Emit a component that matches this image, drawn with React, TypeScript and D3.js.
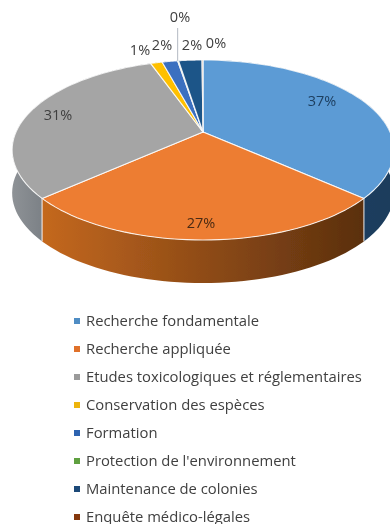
import React from "react";
import * as d3 from "d3";

const categories = [
  "Recherche fondamentale",
  "Recherche appliquée",
  "Etudes toxicologiques et réglementaires",
  "Conservation des espèces",
  "Formation",
  "Protection de l'environnement",
  "Maintenance de colonies",
  "Enquête médico-légales",
];
const shares = [36.6, 26.8, 31.2, 1.2, 1.6, 0.1, 2.4, 0.1];
const shareLabels = ["37%", "27%", "31%", "1%", "2%", "0%", "2%", "0%"];
const topColors = ["#5B9BD5", "#ED7D31", "#A5A5A5", "#FFC000", "#3A6FC0", "#70AD47", "#1F5488", "#9E480E"];
const legendColors = ["#4F8DC4", "#E0712A", "#9A9A9A", "#EDB409", "#2E64B0", "#5FA03F", "#1C4A78", "#85390F"];
const sideFrom = ["#1F4468", "#C4681F", "#8E9296", "#A07800", "#264A80", "#4A7230", "#173A5C", "#6A3008"];
const sideTo = ["#1B3C5C", "#5A2F0E", "#3A444E", "#806000", "#1E3A66", "#3A5A26", "#12304C", "#5A2806"];

const W = 390, H = 524;
const cx = 203, cy = 132, R = 187, S = 86.4, K = 0.2, DEPTH = 43;
const project = (a: number, r = 1): [number, number] => {
  const u = r * Math.sin(a), v = r * Math.cos(a), w = 1 + K * v;
  return [cx + (R * u) / w, cy - (S * v) / w];
};
const labelAt: [number, number][] = [
  [322, 101], [201, 223], [58, 115], [140, 50], [162, 45], [180, 17], [192, 45], [216, 43],
];
const legendX = 86, legendY = 321, legendStep = 28;

export default function App() {
  const arcs = d3.pie<number>().sort(null)(shares);
  const line = d3.line();
  const rim = (s: number, e: number) =>
    d3.range(0, 49).map((i) => project(s + ((e - s) * i) / 48));
  const top = arcs.map((d) => {
    const pts = [[cx, cy] as [number, number], ...rim(d.startAngle, d.endAngle)];
    return line(pts)! + "Z";
  });
  const side = arcs.map((d) => {
    const r = rim(d.startAngle, d.endAngle);
    const low = r.map(([x, y]) => [x, y + DEPTH] as [number, number]).reverse();
    return line([...r, ...low])! + "Z";
  });
  const sideRange = arcs.map((d) => {
    const xs = rim(d.startAngle, d.endAngle).map((p) => p[0]);
    return d3.extent(xs) as [number, number];
  });
  const leader = project(arcs[5].startAngle);
  return (
    <svg width={W} height={H} style={{ position: "absolute", left: 0, top: 0, background: "#fff" }}
      fontFamily="'Open Sans', sans-serif">
      <defs>
        <filter id="soft" x="-5%" y="-5%" width="110%" height="110%">
          <feGaussianBlur stdDeviation="0.4" />
        </filter>
        {arcs.map((_, i) => (
          <linearGradient key={i} id={`side${i}`} gradientUnits="userSpaceOnUse"
            x1={sideRange[i][0]} x2={sideRange[i][1]} y1={0} y2={0}>
            <stop offset="0" stopColor={sideFrom[i]} />
            <stop offset="1" stopColor={sideTo[i]} />
          </linearGradient>
        ))}
      </defs>
      <g filter="url(#soft)">
        {side.map((d, i) => (
          <path key={i} d={d} fill={`url(#side${i})`} />
        ))}
        {arcs.map((d, i) => {
          const a = project(d.startAngle);
          return <line key={i} x1={a[0]} y1={a[1]} x2={a[0]} y2={a[1] + DEPTH} stroke="#fff" strokeOpacity={0.75} strokeWidth={1.2} />;
        })}
        {top.map((d, i) => (
          <path key={i} d={d} fill={topColors[i]} stroke="#fff" strokeOpacity={0.85} strokeWidth={1.1} strokeLinejoin="round" />
        ))}
        <line x1={leader[0]} y1={leader[1]} x2={leader[0]} y2={28} stroke="#BFC4CC" strokeWidth={1.2} />
        {shareLabels.map((t, i) => (
          <text key={i} x={labelAt[i][0]} y={labelAt[i][1]} dy="0.36em" textAnchor="middle"
            fontSize={14.5} fill={i === 1 ? "#4A2A14" : i === 0 ? "#1F3F60" : "#404040"}>{t}</text>
        ))}
        {categories.map((c, i) => (
          <g key={c}>
            <rect x={legendX - 12} y={legendY + i * legendStep - 3} width={6} height={6} fill={legendColors[i]} />
            <text x={legendX} y={legendY + i * legendStep} dy="0.36em" fontSize={14.8} fill="#404040">{c}</text>
          </g>
        ))}
      </g>
    </svg>
  );
}
